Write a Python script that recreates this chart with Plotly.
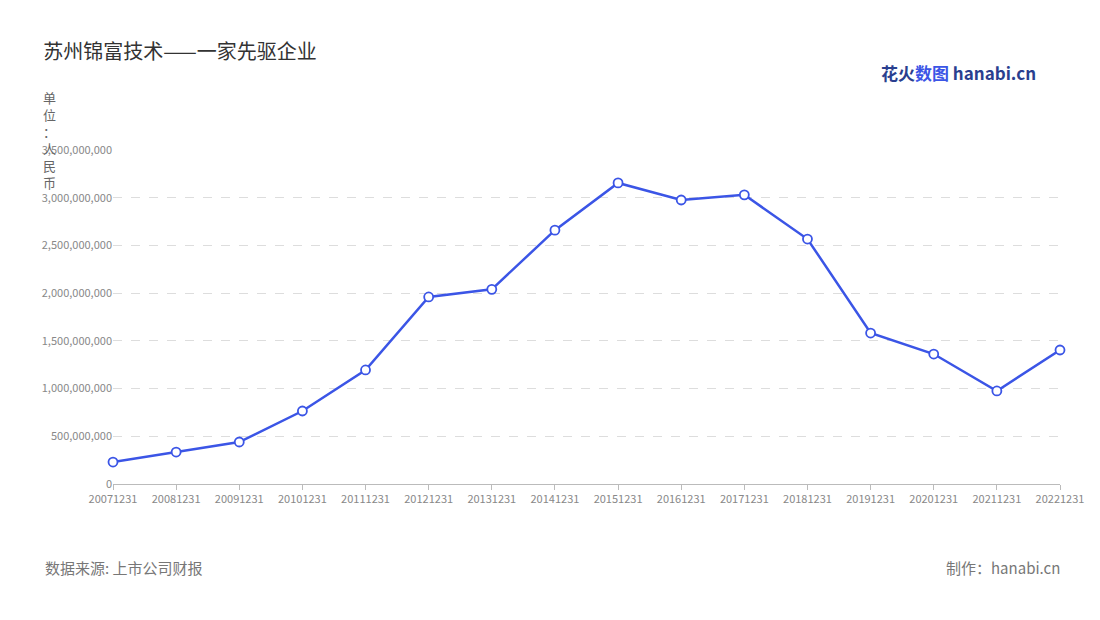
import plotly.graph_objects as go

years = ["20071231","20081231","20091231","20101231","20111231","20121231","20131231","20141231",
         "20151231","20161231","20171231","20181231","20191231","20201231","20211231","20221231"]
values = [0.23e9,0.335e9,0.44e9,0.765e9,1.195e9,1.96e9,2.04e9,2.66e9,
          3.155e9,2.976e9,3.03e9,2.567e9,1.582e9,1.362e9,0.975e9,1.404e9]
yticks = [0,500e6,1000e6,1500e6,2000e6,2500e6,3000e6,3500e6]

L, R, T, B = 105, 48, 142, 144
pw, ph = 1100-L-R, 620-T-B
def px(x): return (x-8-L)/pw
def py(y): return (620-B-(y-8))/ph

fig = go.Figure(go.Scatter(
    x=years, y=values, mode="lines+markers", cliponaxis=False,
    line=dict(color="#3b55e6", width=2.5),
    marker=dict(size=9, color="white", line=dict(color="#3b55e6", width=1.8)),
))
font = "Noto Sans CJK SC"
fig.update_layout(
    width=1100, height=620, plot_bgcolor="white", paper_bgcolor="white",
    margin=dict(l=L, r=R, t=T, b=B), showlegend=False,
    font=dict(family=font, color="#888"),
    title=dict(text="苏州锦富技术——一家先驱企业", x=0.032, y=0.94, xanchor="left",
               font=dict(size=20, color="#333", family=font)),
    xaxis=dict(type="category", range=[0, 15], showgrid=False, showline=True,
               linecolor="#bbb", ticks="outside", ticklen=5, tickcolor="#bbb",
               tickfont=dict(size=11, color="#888")),
    yaxis=dict(range=[0, 3.5e9], tickvals=yticks, tickformat=",d", showgrid=True,
               gridcolor="#ddd", griddash="dash", zeroline=False,
               tickfont=dict(size=11, color="#888"), ticks=""),
    annotations=[
        dict(text="单<br>位<br>：<br>人<br>民<br>币", x=px(50), y=py(86), xref="paper", yref="paper",
             showarrow=False, font=dict(size=13, color="#666"), align="center",
             xanchor="center", yanchor="top"),
        dict(text="数据来源: 上市公司财报", xref="paper", yref="paper", x=px(43), y=py(567),
             xanchor="left", yanchor="middle", showarrow=False, font=dict(size=15, color="#777")),
        dict(text="制作：hanabi.cn", xref="paper", yref="paper", x=px(1062), y=py(567),
             xanchor="right", yanchor="middle", showarrow=False, font=dict(size=15, color="#777")),
        dict(text="<b><span style='color:#2a3f8f'>花火</span><span style='color:#3b55e6'>数图</span> <span style='color:#2a3f8f'>hanabi.cn</span></b>",
             xref="paper", yref="paper", x=px(1038), y=py(72), xanchor="right", yanchor="middle",
             showarrow=False, font=dict(size=17)),
    ],
)
fig.write_html("out.html")
